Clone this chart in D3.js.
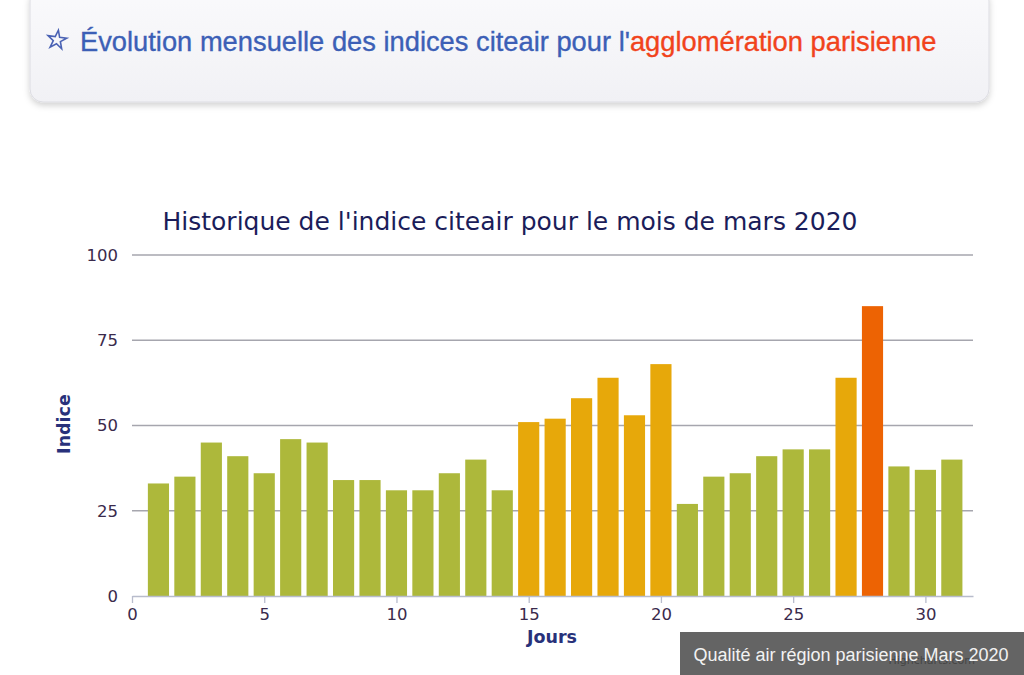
<!DOCTYPE html>
<html lang="fr">
<head>
<meta charset="utf-8">
<title>Indice citeair - mars 2020</title>
<script src="https://d3js.org/d3.v7.min.js"></script>
<style>
  html, body { margin: 0; padding: 0; background: #fff; }
  svg { display: block; }
  .tick text { font-family: "DejaVu Sans", Verdana, sans-serif; font-size: 16.5px; fill: #3a2a4c; }
  .label-axis { font-family: "DejaVu Sans", Verdana, sans-serif; font-size: 17.5px; font-weight: bold; fill: #28317a; }
</style>
</head>
<body>
<div id="chart"></div>
<script>
// data
var jours = d3.range(1, 32);
var indices = [33, 35, 45, 41, 36, 46, 45, 34, 34, 31, 31, 36, 40, 31, 51,
               52, 58, 64, 53, 68, 27, 35, 36, 41, 43, 43, 64, 85, 38, 37, 40];
var xTicks = [0, 5, 10, 15, 20, 25, 30];
var yTicks = [0, 25, 50, 75, 100];
var seuils = [50, 75];
var couleurs = ["#adb83b", "#e7a80a", "#ed6303"];

var W = 1024, H = 675;
var m = {top: 255, right: 51, bottom: 79, left: 132};

var svg = d3.select("#chart").append("svg")
    .attr("width", W).attr("height", H);

// header panel
var defs = svg.append("defs");
var grad = defs.append("linearGradient").attr("id", "panel").attr("x1", 0).attr("y1", 0).attr("x2", 0).attr("y2", 1);
grad.append("stop").attr("offset", "0%").attr("stop-color", "#fafafc");
grad.append("stop").attr("offset", "100%").attr("stop-color", "#f1f1f5");
var flt = defs.append("filter").attr("id", "shadow").attr("x", "-5%").attr("y", "-20%").attr("width", "110%").attr("height", "150%");
flt.append("feDropShadow").attr("dx", 0).attr("dy", 3).attr("stdDeviation", 3).attr("flood-color", "#000").attr("flood-opacity", 0.18);

svg.append("rect")
   .attr("x", 30).attr("y", -12).attr("width", 959).attr("height", 114)
   .attr("rx", 13)
   .style("fill", "url(#panel)").style("stroke", "#dcdce2")
   .attr("filter", "url(#shadow)");

svg.append("path")
   .attr("d", d3.symbol(d3.symbolStar, 110)())
   .attr("transform", "translate(57,40) rotate(8)")
   .style("fill", "none").style("stroke", "#4a62b4").style("stroke-width", 1.6);

var head = svg.append("text")
   .attr("x", 80).attr("y", 51)
   .style("font-family", "Liberation Sans, Arial, sans-serif")
   .style("font-size", "27.3px")
   .style("stroke-width", 0.35);
head.append("tspan").style("fill", "#3c5fb6").style("stroke", "#3c5fb6").text("Évolution mensuelle des indices citeair pour l'");
head.append("tspan").style("fill", "#f1431c").style("stroke", "#f1431c").text("agglomération parisienne");

// scales
var x = d3.scaleLinear().domain([0, 31.8]).range([m.left, W - m.right]);
var y = d3.scaleLinear().domain([0, 100]).range([H - m.bottom, m.top]);
var color = d3.scaleThreshold().domain(seuils).range(couleurs);

// title
svg.append("text")
   .attr("x", 510).attr("y", 230)
   .style("text-anchor", "middle")
   .style("font-family", "DejaVu Sans, Verdana, sans-serif")
   .style("font-size", "25px")
   .style("fill", "#1b1d5a")
   .text("Historique de l'indice citeair pour le mois de mars 2020");

// grid
svg.append("g")
   .selectAll("line")
   .data(yTicks.slice(1))
   .join("line")
   .attr("x1", m.left).attr("x2", W - m.right)
   .attr("y1", d => y(d)).attr("y2", d => y(d))
   .style("stroke", "#a6a6ae").style("stroke-width", 1.3);

// y axis labels
var yAxis = svg.append("g")
   .attr("transform", "translate(" + m.left + ",0)")
   .call(d3.axisLeft(y).tickValues(yTicks).tickSize(0).tickPadding(14));
yAxis.select(".domain").remove();

// bars
svg.append("g")
   .selectAll("rect")
   .data(jours)
   .join("rect")
   .attr("x", (d, i) => x(d - 0.4))
   .attr("width", x(0.8) - x(0))
   .attr("y", (d, i) => y(indices[i]))
   .attr("height", (d, i) => y(0) - y(indices[i]))
   .style("fill", (d, i) => color(indices[i]));

// x axis
var xAxis = svg.append("g")
   .attr("transform", "translate(0," + y(0) + ")")
   .call(d3.axisBottom(x).tickValues(xTicks).tickSize(7).tickPadding(5).tickSizeOuter(0));
xAxis.select(".domain").style("stroke", "#b8bccc").style("stroke-width", 1.5);
xAxis.selectAll(".tick line").style("stroke", "#b8bccc").style("stroke-width", 1.3);

// axis titles
svg.append("text")
   .attr("class", "label-axis")
   .attr("transform", "rotate(-90)")
   .attr("x", -424).attr("y", 70)
   .style("text-anchor", "middle")
   .text("Indice");

svg.append("text")
   .attr("class", "label-axis")
   .attr("x", 552).attr("y", 643)
   .style("text-anchor", "middle")
   .text("Jours");

// credits under the caption
svg.append("text")
   .attr("x", 975).attr("y", 664)
   .style("text-anchor", "end")
   .style("font-family", "DejaVu Sans, Verdana, sans-serif")
   .style("font-size", "11px")
   .style("fill", "#909090")
   .text("Highcharts.com");

// caption box
svg.append("rect")
   .attr("x", 680).attr("y", 632).attr("width", 344).attr("height", 45)
   .style("fill", "rgba(40,40,40,0.72)");

svg.append("text")
   .attr("x", 851).attr("y", 661)
   .style("text-anchor", "middle")
   .style("font-family", "Liberation Sans, Arial, sans-serif")
   .style("font-size", "18px")
   .style("fill", "#f2f2f2")
   .text("Qualité air région parisienne Mars 2020");
</script>
</body>
</html>
